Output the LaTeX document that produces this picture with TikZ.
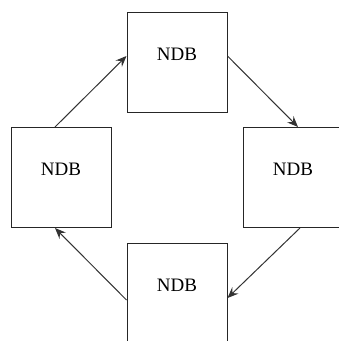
\documentclass[tikz,border=0pt]{standalone}
\usepackage{fontspec}
\setmainfont{Liberation Serif}
\usetikzlibrary{arrows.meta}
\tikzset{
  ndbbox/.style={draw=black!85, line width=1pt, fill=white, inner sep=0pt,
    minimum width=100pt, text height=48pt, text depth=52pt,
    font=\fontsize{19}{21}\selectfont, text=black},
  ring/.style={draw=black!80, line width=1pt, -{Stealth[length=11pt,width=9pt,inset=4pt]}}
}
\begin{document}
\begin{tikzpicture}[x=1pt, y=-1pt]
\useasboundingbox (0,0) rectangle (339,341);
\clip (0,0) rectangle (339,341);
% the four boxes
\node[ndbbox] (top) at (177,62) {NDB};
\node[ndbbox] (left) at (61,177.5) {NDB};
\node[ndbbox] (right) at (293,177.5) {NDB};
\node[ndbbox] (bottom) at (177,293) {NDB};
% arrows round the ring
\draw [ring] ([xshift=-6pt]left.north) -- ([yshift=6pt]top.west);
\draw [ring] ([yshift=6pt]top.east) -- ([xshift=5pt]right.north);
\draw [ring] ([xshift=7pt]right.south) -- ([yshift=-5pt]bottom.east);
\draw [ring] ([yshift=-7pt]bottom.west) -- ([xshift=-6pt]left.south);
\end{tikzpicture}
\end{document}
